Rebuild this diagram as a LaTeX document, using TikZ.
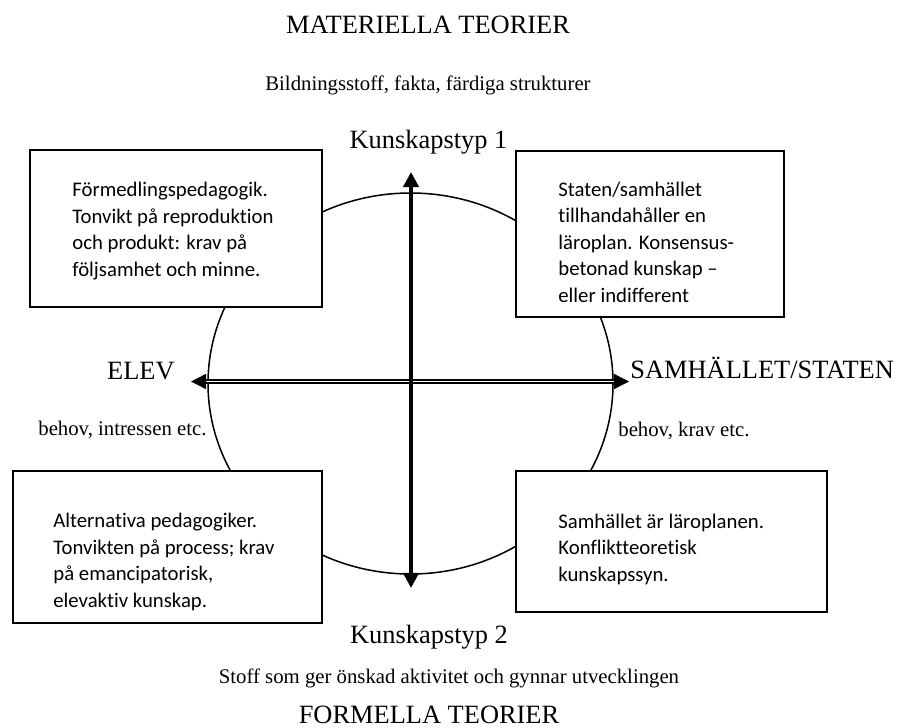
\documentclass[tikz,border=0pt]{standalone}
\usepackage{fontspec}
\setmainfont{Liberation Serif}
\newfontfamily\boxfont{Carlito}[Ligatures=NoCommon]
\usetikzlibrary{arrows.meta, fit}

\begin{document}
\begin{tikzpicture}[
    x=0.53pt, y=-0.53pt,
    panel/.style={draw, line width=1.05pt, fill=white, inner sep=0pt},
    boxtext/.style={font=\boxfont\fontsize{11}{14}\selectfont, align=left, inner sep=0pt, anchor=base west},
    biglabel/.style={font=\fontsize{14}{16}\selectfont, inner sep=0pt, anchor=base},
    smalllabel/.style={font=\fontsize{11}{13}\selectfont, inner sep=0pt, anchor=base},
    vaxis/.style={{Triangle[length=8pt, width=8pt]}-{Triangle[length=8pt, width=8pt]}, line width=2.1pt},
    haxis/.style={{Triangle[length=8pt, width=8pt]}-{Triangle[length=8pt, width=8pt]}, line width=0.7pt, double, double distance=0.9pt}
]
\useasboundingbox (0,0) rectangle (901,727);

% Headings
\node[biglabel] (mat) at (428,33) {MATERIELLA TEORIER};
\node[smalllabel] (bild) at (428,90) {Bildningsstoff, fakta, färdiga strukturer};
\node[biglabel] (kt1) at (428.5,148) {Kunskapstyp 1};
\node[biglabel] (kt2) at (429,643) {Kunskapstyp 2};
\node[smalllabel] (stoff) at (449,683) {Stoff som ger önskad aktivitet och gynnar utvecklingen};
\node[biglabel] (form) at (429,723) {FORMELLA TEORIER};

% Sides
\node[biglabel, anchor=base east] (elev) at (175,379) {ELEV};
\node[biglabel, anchor=base west] (samh) at (630,378) {SAMHÄLLET/STATEN};
\node[smalllabel, anchor=base west] (behelev) at (38,435) {behov, intressen etc.};
\node[smalllabel, anchor=base west] (behsamh) at (618,436) {behov, krav etc.};

% Circle
\draw[line width=0.8pt] (410.5,383.5) ellipse [x radius=202.5, y radius=190.5];

% Boxes
\node[panel, fit={(30,150) (322,307)}] (tl) {};
\node[panel, fit={(516,151) (784,317)}] (tr) {};
\node[panel, fit={(13,471) (322,623)}] (bl) {};
\node[panel, fit={(516,471) (827,612)}] (br) {};

% box texts (anchored at their last line)
\node[boxtext] (tltext) at ([shift={(43,127)}]tl.north west)
    {Förmedlingspedagogik.\\Tonvikt på reproduktion\\och produkt: krav på\\följsamhet och minne.};
\node[boxtext] (trtext) at ([shift={(43,152)}]tr.north west)
    {Staten/samhället\\tillhandahåller en\\läroplan. Konsensus-\\betonad kunskap –\\eller indifferent};
\node[boxtext] (bltext) at ([shift={(41,137)}]bl.north west)
    {Alternativa pedagogiker.\\Tonvikten på process; krav\\på emancipatorisk,\\elevaktiv kunskap.};
\node[boxtext] (brtext) at ([shift={(43,111)}]br.north west)
    {Samhället är läroplanen.\\Konfliktteoretisk\\kunskapssyn.};

% Axes
\coordinate (n) at (411,172);
\coordinate (s) at (411,588);
\coordinate (w) at (191,381.5);
\coordinate (e) at (629,381.5);
\draw[haxis] (w) -- (e);
\draw[vaxis] (s) -- (n);

\end{tikzpicture}
\end{document}
